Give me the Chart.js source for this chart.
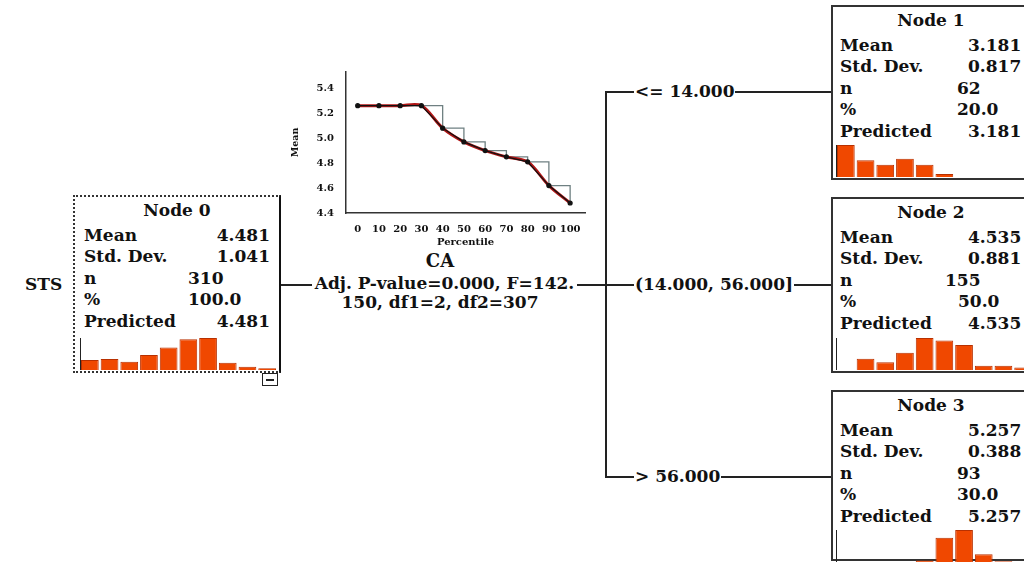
<!DOCTYPE html>
<html>
<head>
<meta charset="utf-8">
<script src="https://cdn.jsdelivr.net/npm/chart.js@4.4.1/dist/chart.umd.min.js"></script>
<style>
  html, body { margin: 0; padding: 0; background: #fff; }
  #stage { position: relative; width: 1024px; height: 563px; overflow: hidden; }
  .t { position: absolute; font: bold 17px "DejaVu Serif", serif; color: #111; line-height: 20px; white-space: nowrap; }
  .box { position: absolute; border: 2px solid #333; background: #fff; box-sizing: border-box; }
  .ln { position: absolute; background: #222; }
  canvas { position: absolute; }
</style>
</head>
<body>
<div id="stage">
  <!-- connector lines -->
  <div class="ln" style="left:281px; top:284px; width:325px; height:1.5px"></div>
  <div class="ln" style="left:605px; top:91px; width:1.5px; height:386px"></div>
  <div class="ln" style="left:605px; top:91px; width:227px; height:1.5px"></div>
  <div class="ln" style="left:605px; top:284px; width:227px; height:1.5px"></div>
  <div class="ln" style="left:605px; top:476px; width:227px; height:1.5px"></div>

  <!-- chart of mean by percentile -->
  <canvas id="meanChart" style="left:290px; top:62px" width="310" height="186"></canvas>
</div>

<script>
// Mean of STS over CA percentiles
const percentiles = [0, 10, 20, 30, 40, 50, 60, 70, 80, 90, 100];
const meanValues = [5.26, 5.26, 5.26, 5.26, 5.08, 4.97, 4.90, 4.85, 4.81, 4.62, 4.48];
const meanTicks = [4.4, 4.6, 4.8, 5.0, 5.2, 5.4];

// Node summaries
const nodeNames = ["Node 0", "Node 1", "Node 2", "Node 3"];
const nodeMeans = ["4.481", "3.181", "4.535", "5.257"];
const nodeStd = ["1.041", "0.817", "0.881", "0.388"];
const nodeN = ["310", "62", "155", "93"];
const nodePct = ["100.0", "20.0", "50.0", "30.0"];
const nodePred = ["4.481", "3.181", "4.535", "5.257"];

// Histogram counts per node (10 bins each)
const hist0 = [22, 24, 18, 33, 49, 67, 70, 16, 7, 4];
const hist1 = [21, 11, 8, 12, 8, 2, 0, 0, 0, 0];
const hist2 = [0, 13, 9, 20, 37, 34, 29, 5, 5, 3];
const hist3 = [0, 0, 0, 0, 2, 34, 45, 11, 1, 0];
const histBins = ["1", "2", "3", "4", "5", "6", "7", "8", "9", "10"];

// Split labels
const splitVar = "CA";
const splitStats = ["Adj. P-value=0.000, F=142.", "150, df1=2, df2=307"];
const branchLabels = ["<= 14.000", "(14.000, 56.000]", "> 56.000"];
const targetName = "STS";

const stage = document.getElementById("stage");

function addText(txt, css) {
    const d = document.createElement("div");
    d.className = "t";
    d.textContent = txt;
    Object.assign(d.style, css);
    stage.appendChild(d);
    return d;
}

// node box layout: left, top, width, height, label x, n/% column x, histogram position
const boxes = [
    { x: 73, y: 195, w: 208, h: 178, lx: 84, vr: 754, nx: 188, px: 188, hx: 79, hy: 338 },
    { x: 831, y: 5, w: 200, h: 175, lx: 840, vr: -6, nx: 957, px: 957, hx: 835, hy: 145 },
    { x: 831, y: 197, w: 200, h: 176, lx: 840, vr: -6, nx: 945, px: 958, hx: 835, hy: 338 },
    { x: 831, y: 390, w: 200, h: 171, lx: 840, vr: -6, nx: 957, px: 957, hx: 835, hy: 530 }
];
const hists = [hist0, hist1, hist2, hist3];
const labels = ["Mean", "Std. Dev.", "n", "%", "Predicted"];
const rowOffsets = [25, 46, 68, 89, 111];

boxes.forEach((b, i) => {
    const box = document.createElement("div");
    box.className = "box";
    Object.assign(box.style, { left: b.x + "px", top: b.y + "px", width: b.w + "px", height: b.h + "px" });
    if (i === 0) {
        box.style.border = "2px dotted #333";
        box.style.borderRight = "2px solid #111";
    }
    stage.appendChild(box);

    const titleY = b.y + 15 - 10;
    addText(nodeNames[i], { left: b.x + "px", width: b.w + "px", textAlign: "center", top: titleY + "px" });
    const vals = [nodeMeans[i], nodeStd[i], nodeN[i], nodePct[i], nodePred[i]];
    labels.forEach((lab, r) => {
        const y = b.y + 15 + rowOffsets[r] - 10;
        addText(lab, { left: b.lx + "px", top: y + "px" });
        if (r === 2 || r === 3) {
            addText(vals[r], { left: (r === 2 ? b.nx : b.px) + "px", top: y + "px" });
        } else if (i === 0) {
            addText(vals[r], { right: b.vr + "px", top: y + "px" });
        } else {
            addText(vals[r], { left: "968px", top: y + "px" });
        }
    });

    // histogram
    const c = document.createElement("canvas");
    c.width = 198; c.height = 32;
    c.style.left = b.hx + "px";
    c.style.top = b.hy + "px";
    stage.appendChild(c);
    new Chart(c.getContext("2d"), {
        type: "bar",
        data: {
            labels: histBins,
            datasets: [{
                data: hists[i],
                backgroundColor: "#f04800",
                borderColor: "#b83000",
                borderWidth: 1,
                barPercentage: 0.9,
                categoryPercentage: 1
            }]
        },
        options: {
            responsive: false,
            animation: false,
            layout: { padding: 0 },
            plugins: { legend: { display: false }, tooltip: { enabled: false } },
            scales: {
                x: { display: false },
                y: {
                    min: 0,
                    max: Math.max(...hists[i]),
                    ticks: { display: false },
                    grid: { display: false },
                    border: { display: true, color: "#222", width: 1 },
                    afterFit: s => { s.width = 1; }
                }
            }
        }
    });
});

// small collapse marker under node 0
const mark = document.createElement("div");
Object.assign(mark.style, { position: "absolute", left: "262px", top: "373px", width: "16px", height: "13px",
    border: "1.5px solid #222", background: "#fff", boxSizing: "border-box" });
mark.innerHTML = '<div style="position:absolute;left:3px;top:5px;width:8px;height:2px;background:#222"></div>';
stage.appendChild(mark);

// split and branch texts
addText(targetName, { left: "25px", top: "274px" });
addText(splitVar, { left: "290px", width: "300px", textAlign: "center", top: "251px", fontSize: "18px" });
addText(splitStats[0], { left: "312px", width: "265px", textAlign: "center", top: "273px", background: "#fff" });
addText(splitStats[1], { left: "290px", width: "300px", textAlign: "center", top: "292px" });

const branchY = [91, 284, 476];
branchLabels.forEach((lab, k) => {
    addText(lab, { left: "634px", top: (branchY[k] - 10) + "px", background: "#fff", padding: "0 1px" });
});

// mean vs percentile chart
const tickFont = { family: "DejaVu Serif", weight: "bold", size: 10 };
const ctx = document.getElementById("meanChart").getContext("2d");
const pts = percentiles.map((p, k) => ({ x: p, y: meanValues[k] }));
new Chart(ctx, {
    type: "line",
    data: {
        datasets: [
            {
                // step outline
                data: pts,
                stepped: "before",
                borderColor: "#6f8082",
                borderWidth: 1.3,
                pointRadius: 0,
                order: 3
            },
            {
                // smoothed fit
                data: pts,
                tension: 0.3,
                borderColor: "#b01515",
                borderWidth: 3,
                pointRadius: 0,
                order: 2
            },
            {
                data: pts,
                borderColor: "#111",
                borderWidth: 1.2,
                pointRadius: 2,
                pointBackgroundColor: "#111",
                pointBorderColor: "#111",
                order: 1
            }
        ]
    },
    options: {
        responsive: false,
        animation: false,
        layout: { padding: { top: 10, right: 15, left: 0, bottom: 0 } },
        plugins: { legend: { display: false }, tooltip: { enabled: false } },
        scales: {
            x: {
                type: "linear",
                min: -5.5,
                max: 107,
                grid: { display: false },
                border: { color: "#333", width: 1.5 },
                afterBuildTicks: s => { s.ticks = percentiles.map(v => ({ value: v })); },
                ticks: { color: "#111", font: tickFont, padding: 2, autoSkip: false, maxRotation: 0, minRotation: 0 },
                title: { display: true, text: "Percentile", color: "#111", font: { family: "DejaVu Serif", weight: "bold", size: 10 }, padding: 0 },
                afterFit: s => { s.height = 35; }
            },
            y: {
                min: 4.4,
                max: 5.53,
                grid: { display: false },
                border: { color: "#333", width: 1.5 },
                afterBuildTicks: s => { s.ticks = meanTicks.map(v => ({ value: v })); },
                ticks: { color: "#111", font: tickFont, padding: 4, autoSkip: false, callback: v => v.toFixed(1) },
                title: { display: true, text: "Mean", color: "#111", font: { family: "DejaVu Serif", weight: "bold", size: 9.5 }, padding: 0 },
                afterFit: s => { s.width = 56; }
            }
        }
    }
});
</script>
</body>
</html>
